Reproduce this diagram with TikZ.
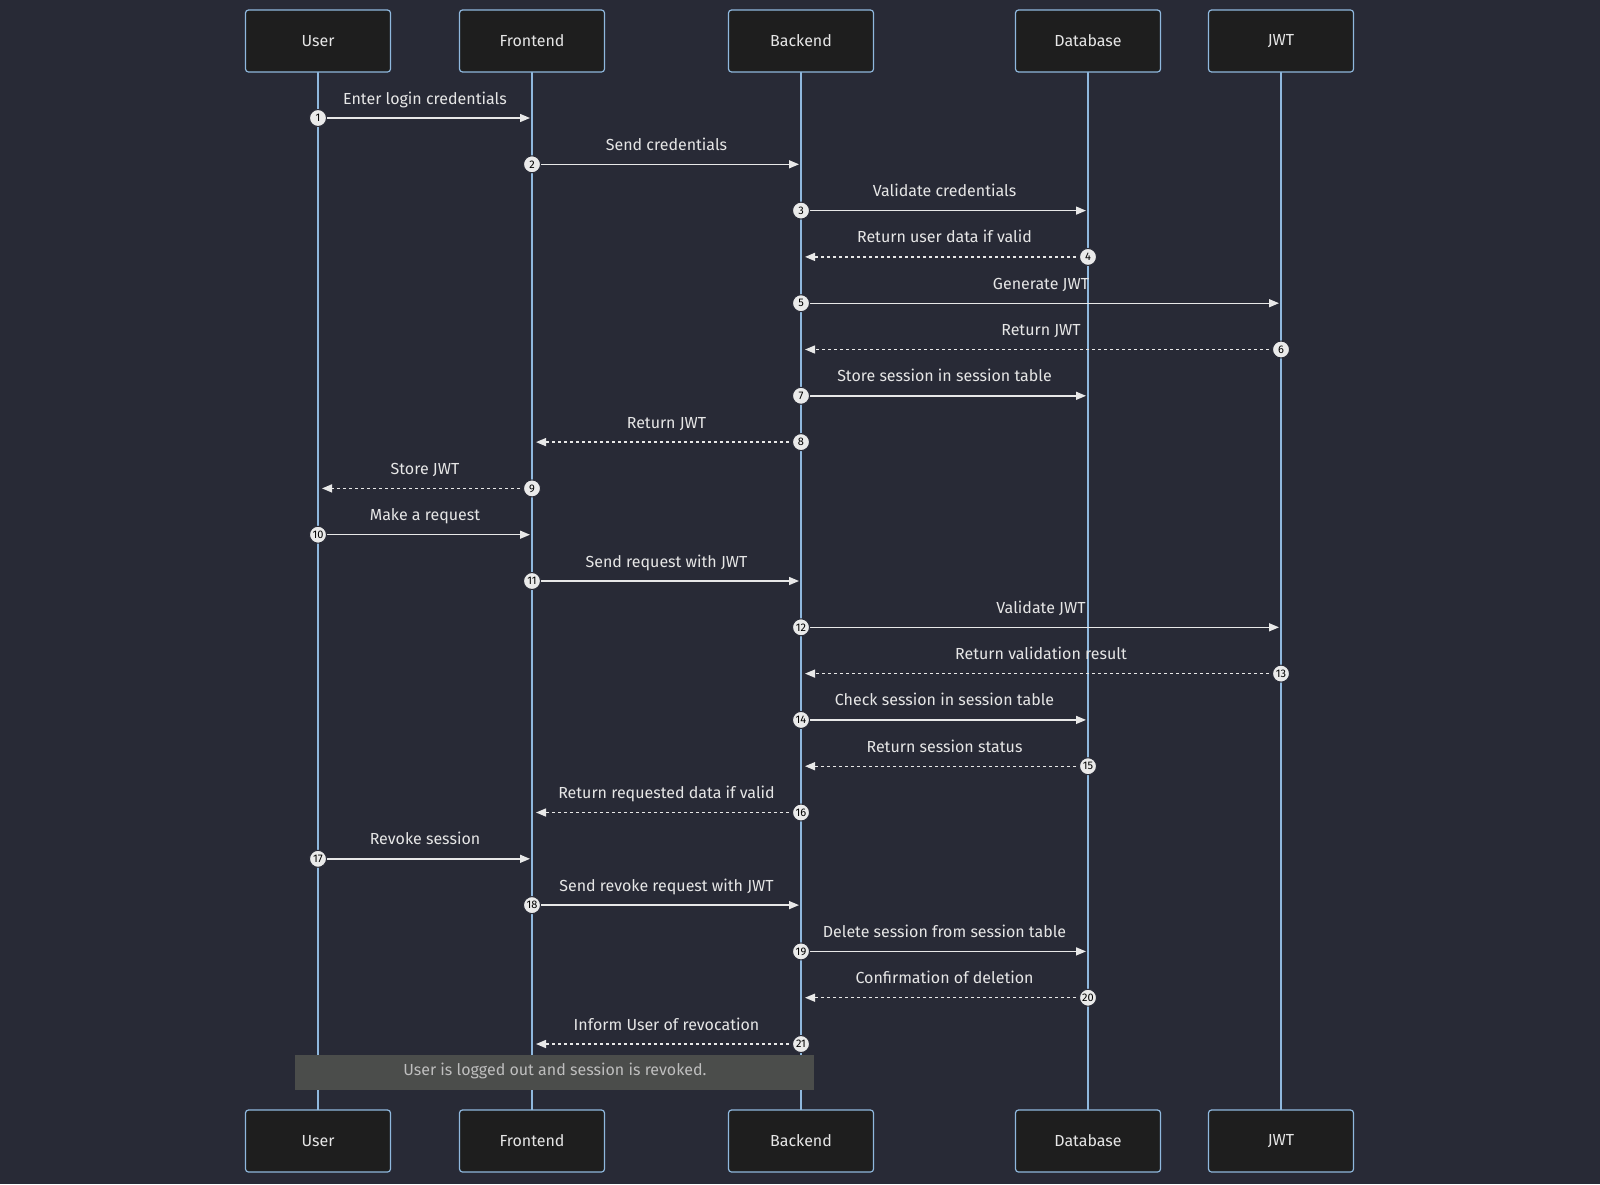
\documentclass[tikz,border=0pt]{standalone}
\usepackage{fontspec}
\setmainfont{Fira Sans}
\usetikzlibrary{arrows.meta,calc}
\definecolor{bg}{HTML}{282A36}
\definecolor{boxf}{HTML}{1E1E1E}
\definecolor{life}{HTML}{8FB8DE}
\definecolor{txt}{HTML}{E6E6E6}
\definecolor{notef}{HTML}{4B4D4B}
\definecolor{notet}{HTML}{BEBEBE}
\begin{document}
\begin{tikzpicture}[x=0.5pt,y=-0.5pt,
  actor/.style={draw=life,fill=boxf,line width=0.6pt,rounded corners=1.5pt,minimum width=72.5pt,minimum height=31pt,text=txt,font=\fontsize{8}{10}\selectfont},
  lifeline/.style={draw=life,line width=0.9pt},
  msg/.style={draw=txt!90,line width=0.7pt,-{Triangle[length=5pt,width=4pt]}},
  ret/.style={msg,dash pattern=on 1.5pt off 1.5pt},
  num/.style={circle,fill=txt!85,draw=bg,line width=0.5pt,inner sep=0pt,minimum size=8.5pt,font=\fontsize{5.5}{6}\selectfont,text=black},
  lbl/.style={text=txt,font=\fontsize{8}{10}\selectfont}]
\fill[bg] (0,0) rectangle (1600,1184);
\useasboundingbox (0,0) rectangle (1600,1184);
\foreach \n/\t/\x in {u/User/318,f/Frontend/532,b/Backend/801,d/Database/1088,j/JWT/1281}{
  \draw[lifeline] (\x,72) -- (\x,1110);
  \node[actor] (\n top) at (\x,41) {\t};
  \node[actor] (\n bot) at (\x,1141) {\t};
}
\def\X#1{\ifcase#1\or318\or532\or801\or1088\or1281\fi}
\foreach [count=\i] \s/\e/\st/\txt in {
 1/2/msg/Enter login credentials,
 2/3/msg/Send credentials,
 3/4/msg/Validate credentials,
 4/3/ret/Return user data if valid,
 3/5/msg/Generate JWT,
 5/3/ret/Return JWT,
 3/4/msg/Store session in session table,
 3/2/ret/Return JWT,
 2/1/ret/Store JWT,
 1/2/msg/Make a request,
 2/3/msg/Send request with JWT,
 3/5/msg/Validate JWT,
 5/3/ret/Return validation result,
 3/4/msg/Check session in session table,
 4/3/ret/Return session status,
 3/2/ret/Return requested data if valid,
 1/2/msg/Revoke session,
 2/3/msg/Send revoke request with JWT,
 3/4/msg/Delete session from session table,
 4/3/ret/Confirmation of deletion,
 3/2/ret/Inform User of revocation}{
  \pgfmathsetmacro\yy{118+(\i-1)*46.3}
  \coordinate (s\i) at (\X{\s},\yy);
  \coordinate (e\i) at (\X{\e},\yy);
  \ifnum\s<\e
    \draw[\st] (s\i) -- ([xshift=-1pt]e\i);
  \else
    \draw[\st] (s\i) -- ([xshift=2pt]e\i);
  \fi
  \node[num] (n\i) at (s\i) {\i};
  \node[lbl,anchor=base] (l\i) at ($(s\i)!0.5!(e\i)+(0,-14)$) {\txt};
}
\node[fill=notef,minimum width=259.5pt,minimum height=17.5pt,inner sep=0pt,text=notet,font=\fontsize{8}{10}\selectfont,anchor=north west] (note) at (295,1055) {\raisebox{4pt}{User is logged out and session is revoked.}};
\end{tikzpicture}
\end{document}
